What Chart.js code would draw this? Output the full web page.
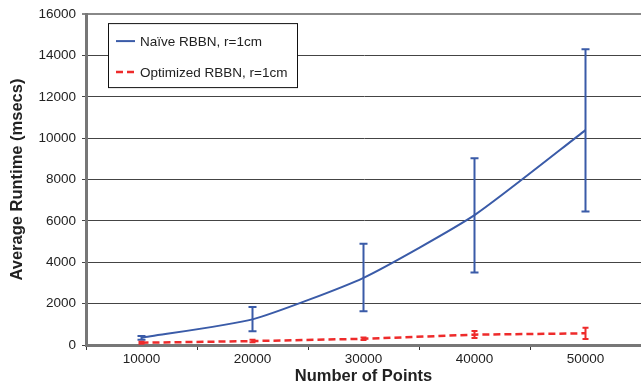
<!DOCTYPE html>
<html lang="en">
<head>
<meta charset="UTF-8">
<title>Average runtime vs number of points</title>
<script src="https://cdn.jsdelivr.net/npm/chart.js"></script>
<style>
    html, body { margin: 0; padding: 0; background: #fff; }
    #wrap { width: 641px; height: 388px; position: relative; }
</style>
</head>
<body>
<div id="wrap"><canvas id="runtimeChart"></canvas></div>
<script>
    // values (msecs)
    const categories = ['10000', '20000', '30000', '40000', '50000'];
    const naiveMean = [350, 1240, 3250, 6280, 10390];
    const naiveLow  = [250, 660, 1630, 3510, 6460];
    const naiveHigh = [440, 1840, 4890, 9030, 14300];
    const optMean = [110, 190, 300, 500, 565];
    const optLow  = [60, 130, 240, 340, 290];
    const optHigh = [160, 250, 360, 680, 840];
    const yMax = 16000;
    const yStep = 2000;

    const BLUE = '#3a5ba8';
    const RED = '#ee2b2b';
    const TXT = '#222';
    const FONT = "'Liberation Sans', Arial, sans-serif";

    // draws the error bars through the chart's own scales
    const errorBars = {
        id: 'errorBars',
        afterDatasetsDraw(chart) {
            const ctx = chart.ctx;
            const xs = chart.scales.x, ys = chart.scales.y;
            chart.data.datasets.forEach(ds => {
                if (!ds.errLow) return;
                ctx.save();
                ctx.strokeStyle = ds.borderColor;
                ctx.lineWidth = 2;
                ctx.setLineDash([]);
                ds.errLow.forEach((lo, i) => {
                    const px = xs.getPixelForValue(i);
                    const top = ys.getPixelForValue(ds.errHigh[i]);
                    const bot = ys.getPixelForValue(lo);
                    const cap = ds.capWidth;
                    ctx.beginPath();
                    ctx.moveTo(px, top); ctx.lineTo(px, bot);
                    ctx.moveTo(px - cap, top); ctx.lineTo(px + cap, top);
                    ctx.moveTo(px - cap, bot); ctx.lineTo(px + cap, bot);
                    ctx.stroke();
                });
                ctx.restore();
            });
        }
    };

    // boxed legend inside the plot, like the original
    const boxLegend = {
        id: 'boxLegend',
        afterDraw(chart) {
            const ctx = chart.ctx;
            const left = chart.chartArea.left + 22, top = chart.chartArea.top + 9;
            ctx.save();
            ctx.fillStyle = '#fff';
            ctx.fillRect(left, top, 189, 64);
            ctx.strokeStyle = '#111';
            ctx.lineWidth = 1;
            ctx.strokeRect(left + 0.5, top + 0.5, 189, 64);
            ctx.font = '13.5px ' + FONT;
            ctx.textBaseline = 'middle';
            chart.data.datasets.forEach((ds, i) => {
                const y = top + 18 + i * 31;
                ctx.strokeStyle = ds.borderColor;
                ctx.lineWidth = ds.borderWidth;
                ctx.setLineDash(ds.borderDash || []);
                ctx.beginPath();
                ctx.moveTo(left + 8, y); ctx.lineTo(left + 27, y);
                ctx.stroke();
                ctx.fillStyle = TXT;
                ctx.fillText(ds.label, left + 32, y + 1);
            });
            ctx.restore();
        }
    };

    new Chart(document.getElementById('runtimeChart'), {
        type: 'line',
        data: {
            labels: categories,
            datasets: [
                {
                    label: 'Naïve RBBN, r=1cm',
                    data: naiveMean,
                    errLow: naiveLow,
                    errHigh: naiveHigh,
                    capWidth: 4,
                    borderColor: BLUE,
                    borderWidth: 2,
                    tension: 0.18,
                    pointRadius: 0
                },
                {
                    label: 'Optimized RBBN, r=1cm',
                    data: optMean,
                    errLow: optLow,
                    errHigh: optHigh,
                    capWidth: 3,
                    borderColor: RED,
                    borderWidth: 2.5,
                    borderDash: [7, 4],
                    tension: 0,
                    pointRadius: 0
                }
            ]
        },
        options: {
            responsive: true,
            maintainAspectRatio: false,
            animation: false,
            layout: { padding: { top: 14, right: 0, left: 0, bottom: 0 } },
            plugins: {
                legend: { display: false },
                tooltip: { enabled: false }
            },
            scales: {
                x: {
                    offset: true,
                    afterFit: s => { s.height = 43; },
                    grid: {
                        offset: true,
                        drawOnChartArea: false,
                        drawTicks: true,
                        tickLength: 5,
                        color: '#333'
                    },
                    border: { color: '#777', width: 3 },
                    ticks: { color: TXT, padding: 1, font: { family: FONT, size: 13.5 } },
                    title: {
                        display: true,
                        text: 'Number of Points',
                        color: TXT,
                        padding: { top: 0, bottom: 2 },
                        font: { family: FONT, size: 16.5, weight: 'bold' }
                    }
                },
                y: {
                    min: 0,
                    max: yMax,
                    afterFit: s => { s.width = 86; },
                    grid: {
                        color: c => c.tick && c.tick.value === yMax ? '#888' : '#444',
                        lineWidth: c => c.tick && c.tick.value === yMax ? 2 : 1,
                        tickLength: 4
                    },
                    border: { color: '#777', width: 3 },
                    ticks: {
                        stepSize: yStep,
                        color: TXT,
                        padding: 6,
                        font: { family: FONT, size: 13.5 },
                        callback: v => String(v)
                    },
                    title: {
                        display: true,
                        text: 'Average Runtime (msecs)',
                        color: TXT,
                        padding: { top: 8, bottom: 0 },
                        font: { family: FONT, size: 16.5, weight: 'bold' }
                    }
                }
            }
        },
        plugins: [errorBars, boxLegend]
    });
</script>
</body>
</html>
